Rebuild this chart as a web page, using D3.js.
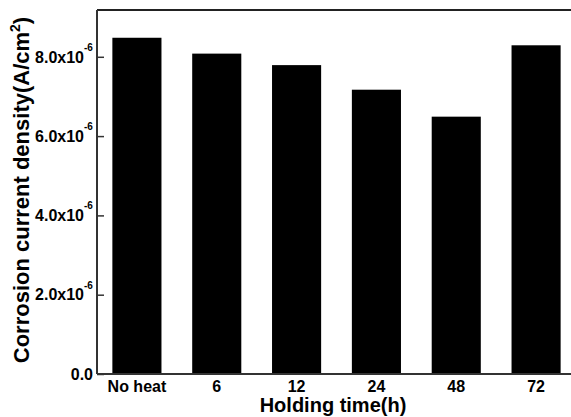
<!DOCTYPE html>
<html>
<head>
<meta charset="utf-8">
<script src="https://cdn.jsdelivr.net/npm/d3@7"></script>
<style>
  body { margin: 0; background: #fff; }
  text { font-family: "Liberation Sans", Arial, sans-serif; font-weight: bold; fill: #000; }
</style>
</head>
<body>
<div id="chart"></div>
<script>
const categories = ["No heat", "6", "12", "24", "48", "72"];
const currentDensity = [8.48e-6, 8.08e-6, 7.79e-6, 7.17e-6, 6.49e-6, 8.29e-6];
const yTicks = [0, 2e-6, 4e-6, 6e-6, 8e-6];

const width = 571;
const height = 417;
const margin = { top: 10, right: -5, bottom: 43, left: 97 };

const svg = d3.select("#chart")
  .append("svg")
  .attr("width", width)
  .attr("height", height);

const x = d3.scaleBand()
  .domain(categories)
  .range([margin.left, width - margin.right])
  .paddingInner(0.385)
  .paddingOuter(0.1925);

const y = d3.scaleLinear()
  .domain([0, 9.18e-6])
  .range([height - margin.bottom, margin.top]);

// bars
svg.append("g")
  .selectAll("rect")
  .data(categories)
  .join("rect")
  .attr("x", d => x(d))
  .attr("y", (d, i) => y(currentDensity[i]))
  .attr("width", x.bandwidth())
  .attr("height", (d, i) => y(0) - y(currentDensity[i]))
  .attr("fill", "#000");

// top frame line
svg.append("line")
  .attr("x1", margin.left).attr("x2", width)
  .attr("y1", margin.top).attr("y2", margin.top)
  .attr("stroke", "#222").attr("stroke-width", 2);

// y axis, inward ticks
const yAxis = svg.append("g")
  .attr("transform", `translate(${margin.left},0)`)
  .call(d3.axisRight(y).tickValues(yTicks).tickSize(7).tickFormat(""));
yAxis.select(".domain").attr("stroke", "#333").attr("stroke-width", 2)
  .attr("d", `M0,${margin.top}V${y(0)}`);
yAxis.selectAll(".tick line").attr("stroke", "#333").attr("stroke-width", 1.5);

// y tick labels with superscript exponent
const yLab = svg.append("g");
yTicks.forEach(v => {
  const t = yLab.append("text")
    .attr("x", v === 0 ? 93 : 84)
    .attr("y", y(v))
    .attr("dy", "0.36em")
    .attr("text-anchor", "end")
    .style("font-size", "16px");
  if (v === 0) {
    t.text("0.0");
  } else {
    t.text((v * 1e6).toFixed(1) + "x10");
    yLab.append("text")
      .attr("x", 84)
      .attr("y", y(v) - 6)
      .attr("text-anchor", "start")
      .style("font-size", "10px")
      .text("-6");
  }
});

// x axis
const xAxis = svg.append("g")
  .attr("transform", `translate(0,${y(0)})`)
  .call(d3.axisBottom(x).tickSize(0).tickPadding(7));
xAxis.select(".domain").attr("stroke", "#333").attr("stroke-width", 2)
  .attr("d", `M${margin.left},0H${width}`);
xAxis.selectAll(".tick text")
  .style("font-size", "16px")
  .style("font-family", "'Liberation Sans', Arial, sans-serif")
  .style("font-weight", "bold")
  .attr("fill", "#000");

// axis titles
svg.append("text")
  .attr("x", 333)
  .attr("y", 412)
  .attr("text-anchor", "middle")
  .style("font-size", "20px")
  .text("Holding time(h)");

const yTitle = svg.append("text")
  .attr("transform", "translate(29,190) rotate(-90)")
  .attr("text-anchor", "middle")
  .style("font-size", "22px");
yTitle.append("tspan").text("Corrosion current density(A/cm");
yTitle.append("tspan").attr("dy", -9).style("font-size", "14px").text("2");
yTitle.append("tspan").attr("dy", 9).text(")");
</script>
</body>
</html>
